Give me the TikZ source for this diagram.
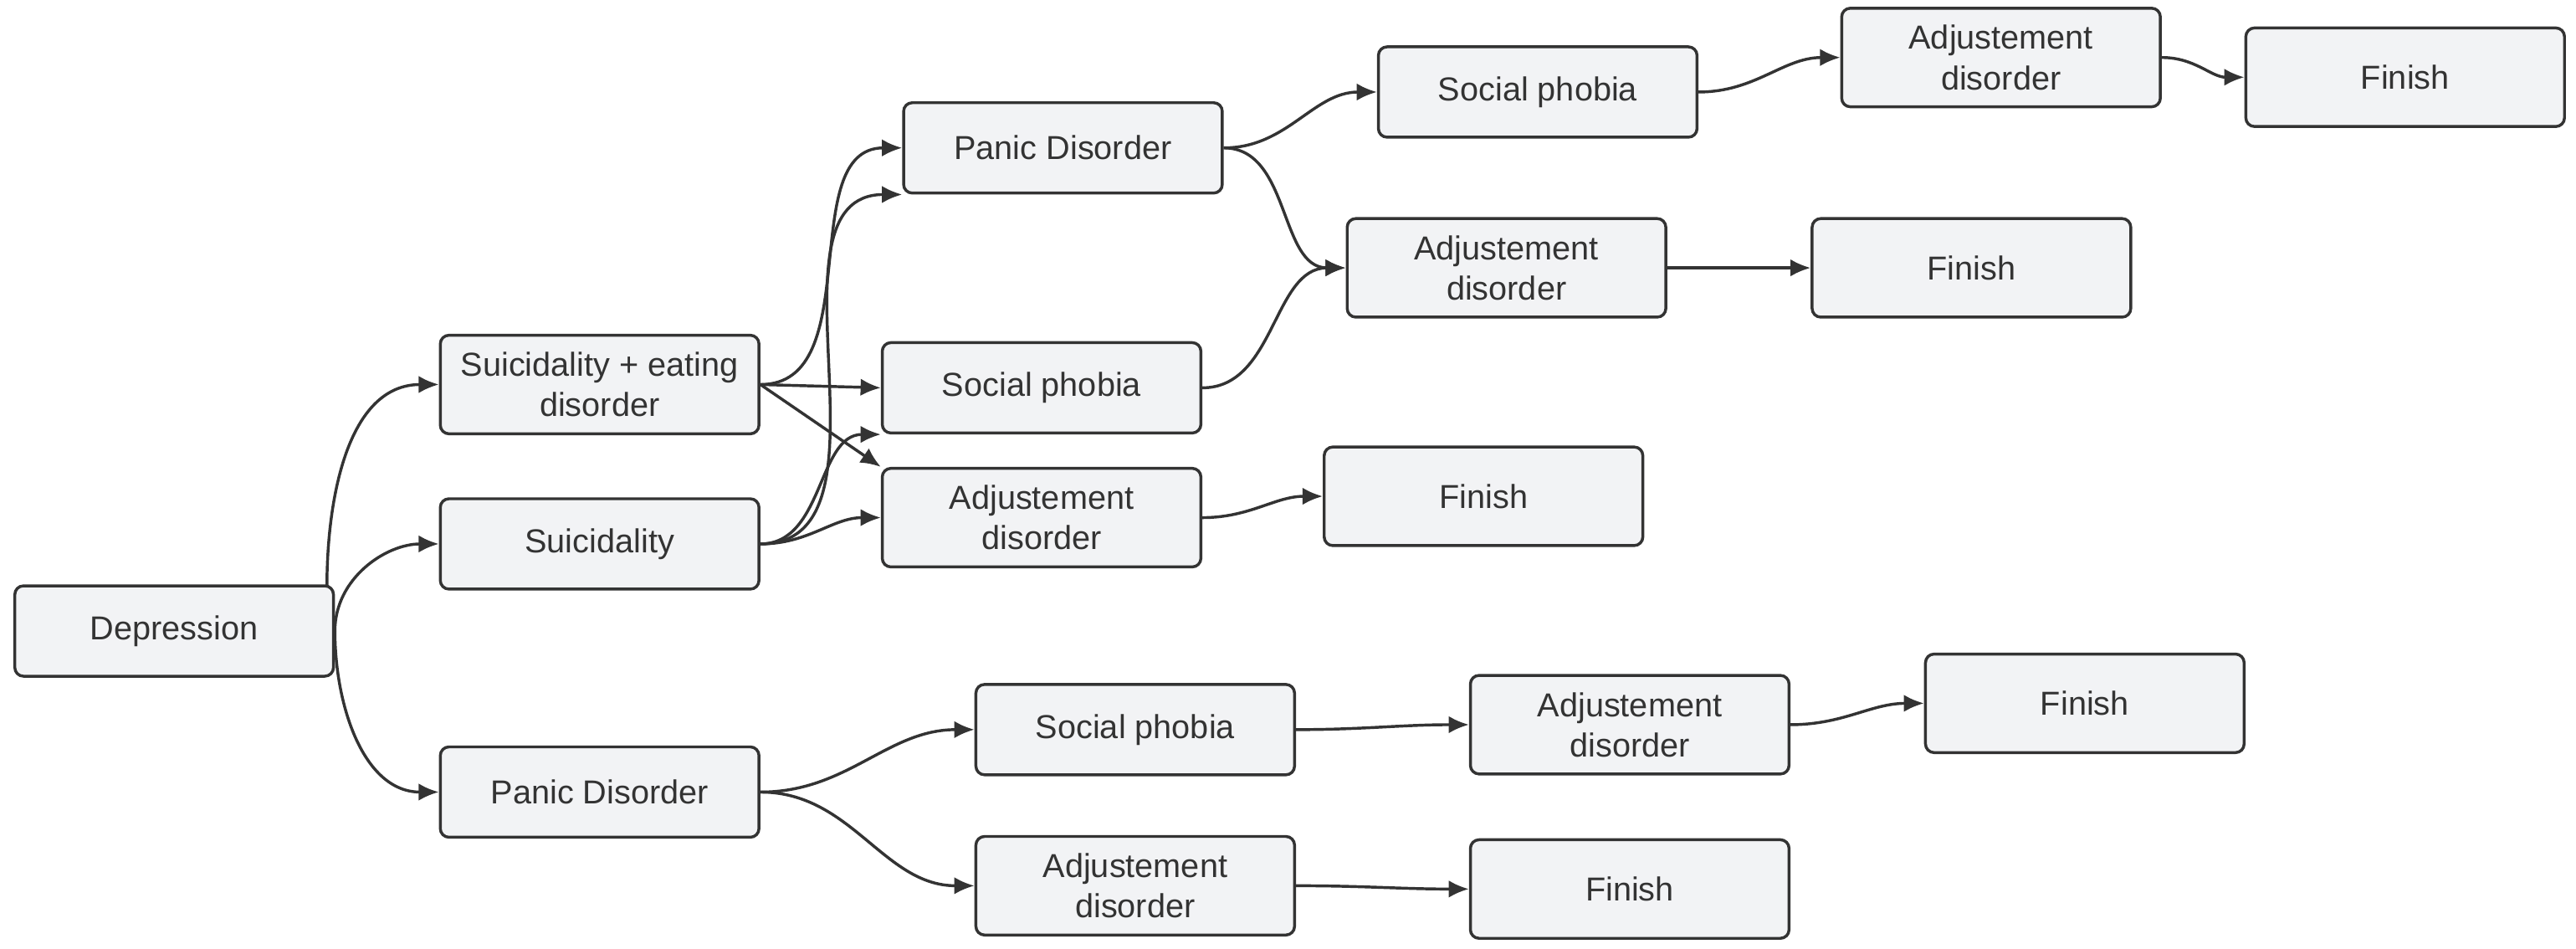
\documentclass[tikz,border=0pt]{standalone}
\usepackage{fontspec}
\setmainfont{Liberation Sans}
\usetikzlibrary{arrows.meta}
\definecolor{bx}{HTML}{F2F3F5}
\definecolor{ln}{HTML}{333333}
\begin{document}
\begin{tikzpicture}[x=0.02cm,y=-0.02cm,
 b/.style={draw=ln,fill=bx,line width=1pt,rounded corners=3pt,minimum width=3.88cm,minimum height=1.1cm,align=center,font=\fontsize{11.5}{14}\selectfont,text=ln},
 t/.style={b,minimum height=1.2cm},
 e/.style={draw=ln,line width=1pt,-{Latex[length=7pt,width=6pt]}},
 c/.style={e,out=0,in=180}]
\useasboundingbox (0,0) rectangle (1568,577);
\node[b] (dep) at (106,384) {Depression};
\node[t] (se) at (365,234) {Suicidality + eating\\disorder};
\node[b] (su) at (365,331) {Suicidality};
\node[b] (pl) at (365,482) {Panic Disorder};
\node[b] (pt) at (647,90) {Panic Disorder};
\node[b] (sm) at (634,236) {Social phobia};
\node[t] (am) at (634,315) {Adjustement\\disorder};
\node[t] (fm) at (903,302) {Finish};
\node[b] (st) at (936,56) {Social phobia};
\node[t] (a2) at (917,163) {Adjustement\\disorder};
\node[t] (f2) at (1200,163) {Finish};
\node[t] (at) at (1218,35) {Adjustement\\disorder};
\node[t] (ft) at (1464,47) {Finish};
\node[b] (sl) at (691,444) {Social phobia};
\node[t] (al) at (992,441) {Adjustement\\disorder};
\node[t] (fl) at (1269,428) {Finish};
\node[t] (ab) at (691,539) {Adjustement\\disorder};
\node[t] (fb) at (992,541) {Finish};
\coordinate (d1) at (199,357);
\draw[e] (d1) to[out=90,in=180] (se.west);
\draw[e] (dep.east) to[out=90,in=180] (su.west);
\draw[e] (dep.east) to[out=-90,in=180] (pl.west);
\draw[c] (se.east) to (pt.west);
\draw[e] (se.east) -- (sm.west);
\draw[e] (se.east) -- (am.north west);
\draw[c] (su.east) to (pt.south west);
\draw[c] (su.east) to (sm.south west);
\draw[c] (su.east) to (am.west);
\draw[c] (pt.east) to (st.west);
\draw[c] (pt.east) to (a2.west);
\draw[c] (sm.east) to (a2.west);
\draw[c] (st.east) to (at.west);
\draw[c] (at.east) to (ft.west);
\draw[c] (a2.east) to (f2.west);
\draw[c] (am.east) to (fm.west);
\draw[c] (pl.east) to (sl.west);
\draw[c] (pl.east) to (ab.west);
\draw[c] (sl.east) to (al.west);
\draw[c] (al.east) to (fl.west);
\draw[c] (ab.east) to (fb.west);
\end{tikzpicture}
\end{document}
